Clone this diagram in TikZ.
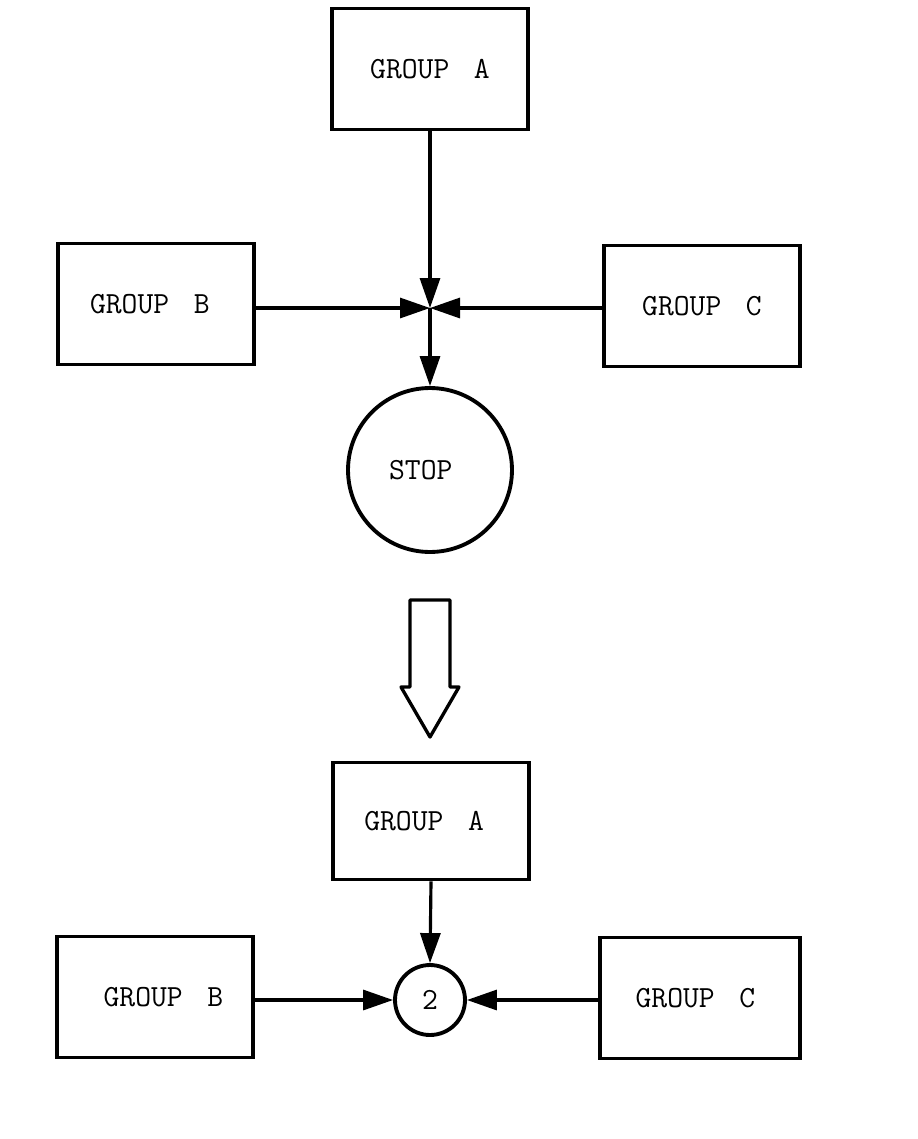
\documentclass[tikz,border=0pt]{standalone}
\usetikzlibrary{arrows.meta}
\newcommand{\gap}{\hspace{0.8em}}
\begin{document}
\begin{tikzpicture}[x=0.02cm,y=-0.02cm,
  every node/.style={font=\fontsize{17.5}{20}\selectfont\ttfamily},
  groupbox/.style={draw,line width=2.2pt,minimum width=3.92cm,minimum height=2.42cm,inner sep=0pt},
  ring/.style={draw,circle,line width=2.2pt,inner sep=0pt},
  flow/.style={line width=1.8pt,-{Triangle[length=0.6cm,width=0.4cm]}}]
\useasboundingbox (0,0) rectangle (917,1139);

% upper stage: three groups merging before STOP
\node[groupbox] (a1) at (430,69) {GROUP\gap A};
\node[groupbox] (b1) at (156,304) {GROUP\gap B\kern0.4em\relax};
\node[groupbox] (c1) at (702,306) {GROUP\gap C};
\coordinate (j) at (430,308);
\node[ring,minimum size=3.28cm] (stop) at (430,470) {\raisebox{-3pt}{STOP}\kern0.6em\relax};

\draw[flow] (a1.south) -- (j);
\draw[flow] (b1.east |- j) -- (j);
\draw[flow] (c1.west |- j) -- (j);
\draw[flow] (j) -- (stop.north);

% hollow transition arrow
\draw[line width=1.9pt,line join=round]
  (410,600) -- (450,600) -- (450,687) -- (459,687) -- (430,737)
  -- (401,687) -- (410,687) -- cycle;

% lower stage: three groups merging into junction 2
\node[groupbox,minimum height=2.34cm] (a2) at (431,821) {GROUP\gap A\kern0.45em\relax};
\node[groupbox] (b2) at (155,997) {\kern0.55em GROUP\gap B};
\node[groupbox,minimum width=4cm] (c2) at (700,998) {GROUP\gap C\kern0.3em\relax};
\node[ring,minimum size=1.4cm] (n2) at (430,1000) {2};

\draw[flow] (a2.south) -- (n2.north);
\draw[flow] (b2.east |- n2) -- (n2.west);
\draw[flow] (c2.west |- n2) -- (n2.east);
\end{tikzpicture}
\end{document}
